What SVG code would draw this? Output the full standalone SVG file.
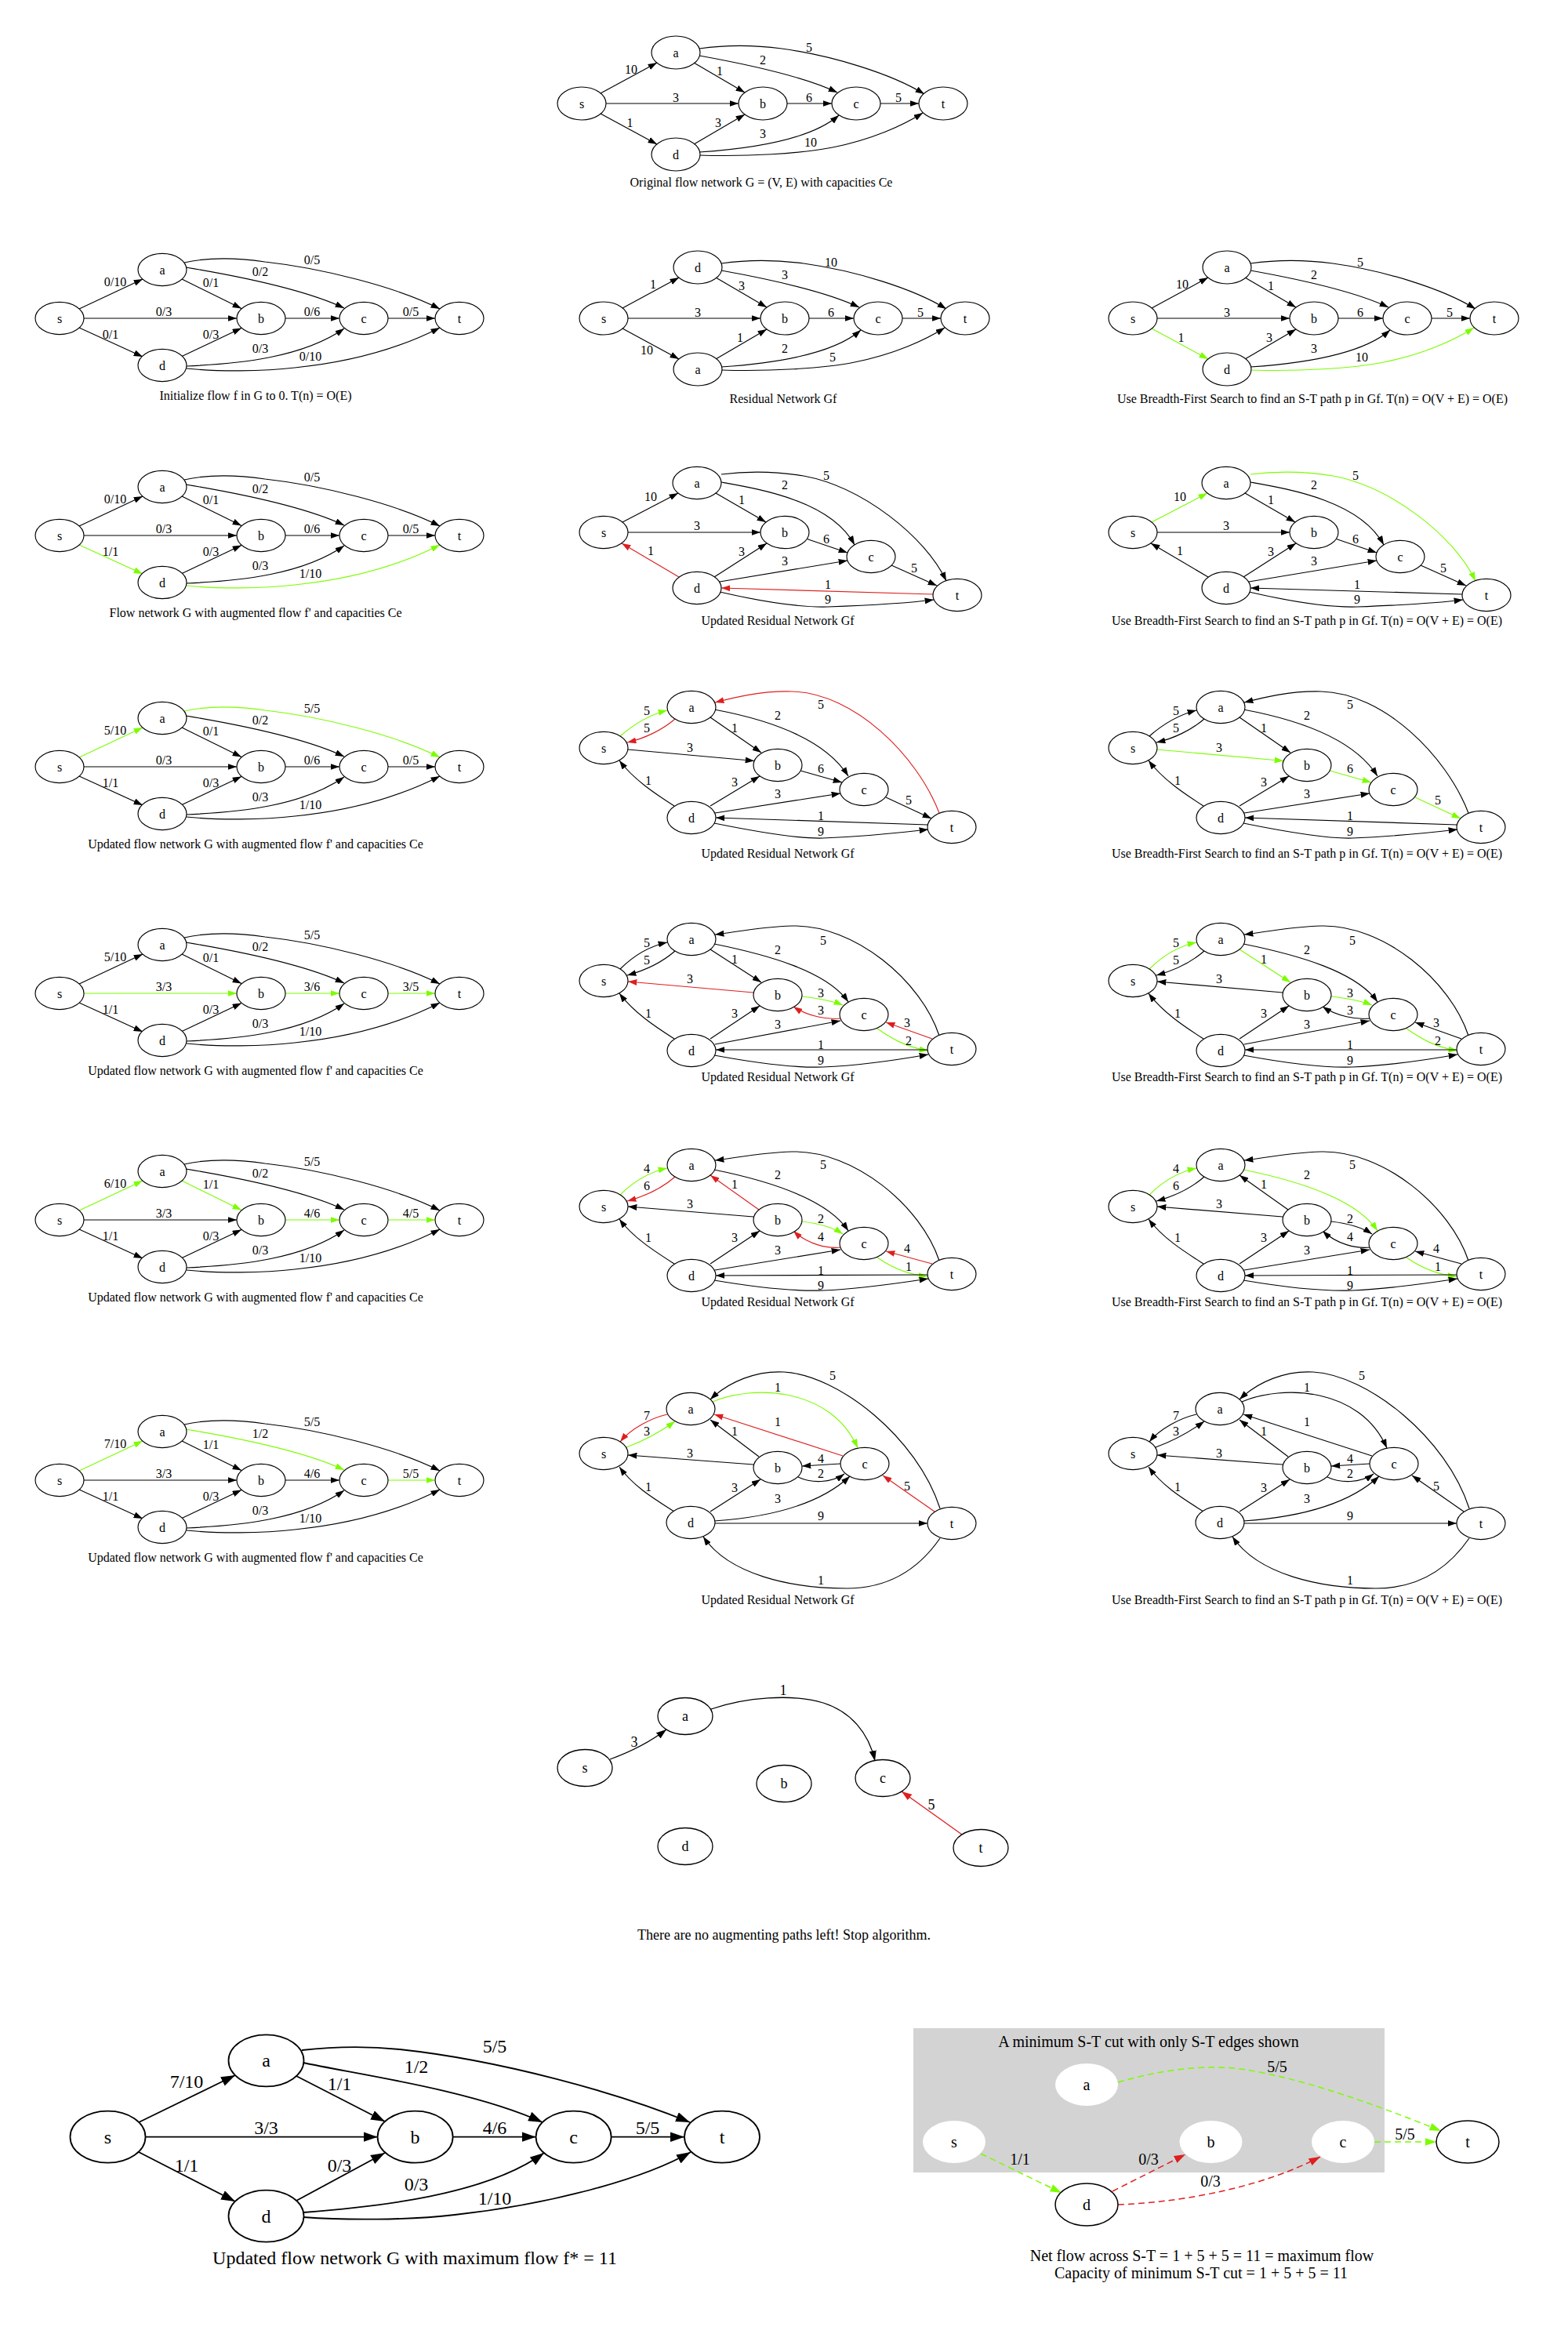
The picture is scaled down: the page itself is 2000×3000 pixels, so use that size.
<svg xmlns="http://www.w3.org/2000/svg" width="2000" height="3000" viewBox="0 0 2000 3000">
<defs>
<style>
text{font-family:"Liberation Serif","Times New Roman",serif;font-size:16px;text-anchor:middle;fill:#000}
.f18{font-size:18px}.f20{font-size:20px}.f24{font-size:24px}
.n ellipse{fill:#fff;stroke:#000;stroke-width:1.15}
.n8 ellipse{fill:#fff;stroke:#000;stroke-width:1.3}
.nL ellipse{fill:#fff;stroke:#000;stroke-width:1.8}
.nC ellipse{fill:#fff;stroke:#000;stroke-width:1.5}
.nW ellipse{fill:#fff;stroke:none}
.e{fill:none;stroke:#000;stroke-width:1.15;marker-end:url(#ak)}
.e.g{stroke:#7cfc00;marker-end:url(#ag)}
.e.r{stroke:#dd1f1f;marker-end:url(#ar)}
.e8{fill:none;stroke:#000;stroke-width:1.3;marker-end:url(#ak8)}
.e8.r{stroke:#dd1f1f;marker-end:url(#ar8)}
.eL{fill:none;stroke:#000;stroke-width:1.8;marker-end:url(#akL)}
.eC{fill:none;stroke-width:1.5;stroke-dasharray:8,5}
.eC.g{stroke:#7cfc00;marker-end:url(#agC)}
.eC.r{stroke:#dd1f1f;marker-end:url(#arC)}
</style>
<marker id="ak" viewBox="0 0 11.4 8" markerWidth="11.4" markerHeight="8" refX="11.4" refY="4" orient="auto" markerUnits="userSpaceOnUse"><path d="M0,0 L11.4,4 L0,8 z" fill="#000"/></marker>
<marker id="ag" viewBox="0 0 11.4 8" markerWidth="11.4" markerHeight="8" refX="11.4" refY="4" orient="auto" markerUnits="userSpaceOnUse"><path d="M0,0 L11.4,4 L0,8 z" fill="#7cfc00"/></marker>
<marker id="ar" viewBox="0 0 11.4 8" markerWidth="11.4" markerHeight="8" refX="11.4" refY="4" orient="auto" markerUnits="userSpaceOnUse"><path d="M0,0 L11.4,4 L0,8 z" fill="#dd1f1f"/></marker>
<marker id="ak8" viewBox="0 0 13 9.2" markerWidth="13" markerHeight="9.2" refX="13" refY="4.6" orient="auto" markerUnits="userSpaceOnUse"><path d="M0,0 L13,4.6 L0,9.2 z" fill="#000"/></marker>
<marker id="ar8" viewBox="0 0 13 9.2" markerWidth="13" markerHeight="9.2" refX="13" refY="4.6" orient="auto" markerUnits="userSpaceOnUse"><path d="M0,0 L13,4.6 L0,9.2 z" fill="#dd1f1f"/></marker>
<marker id="akL" viewBox="0 0 18 12.6" markerWidth="18" markerHeight="12.6" refX="18" refY="6.3" orient="auto" markerUnits="userSpaceOnUse"><path d="M0,0 L18,6.3 L0,12.6 z" fill="#000"/></marker>
<marker id="agC" viewBox="0 0 14.5 10" markerWidth="14.5" markerHeight="10" refX="14.5" refY="5" orient="auto" markerUnits="userSpaceOnUse"><path d="M0,0 L14.5,5 L0,10 z" fill="#7cfc00"/></marker>
<marker id="arC" viewBox="0 0 14.5 10" markerWidth="14.5" markerHeight="10" refX="14.5" refY="5" orient="auto" markerUnits="userSpaceOnUse"><path d="M0,0 L14.5,5 L0,10 z" fill="#dd1f1f"/></marker>
</defs>
<rect width="2000" height="3000" fill="#fff"/>

<!-- ===== Top: original network ===== -->
<g id="p0" transform="translate(742,132)">
<g id="p0-edges">
<path class="e" d="M24,-13 L96,-52"/>
<path class="e" d="M24,13 L96,52"/>
<path class="e" d="M31,0 L200,0"/>
<path class="e" d="M143,-52 L208,-14"/>
<path class="e" d="M150,-61 C200,-52 280,-36 326,-14"/>
<path class="e" d="M150,-70 C185,-75 225,-74 255,-70 C320,-61 395,-38 437,-12"/>
<path class="e" d="M143,52 L208,14"/>
<path class="e" d="M150,62 C210,58 290,48 328,15"/>
<path class="e" d="M150,66 C210,68 280,64 320,56 C370,46 410,28 435,12"/>
<path class="e" d="M262,0 L319,0"/>
<path class="e" d="M381,0 L430,0"/>
<text x="63" y="-38.5">10</text><text x="61.5" y="29.5">1</text><text x="120" y="-2.5">3</text>
<text x="176" y="-36.5">1</text><text x="231" y="-50.5">2</text><text x="290" y="-66.5">5</text>
<text x="290" y="-2.5">6</text><text x="404" y="-2.5">5</text><text x="174" y="29.5">3</text>
<text x="231" y="43.5">3</text><text x="292" y="54.5">10</text>
</g>
<g id="p0-s" class="n"><ellipse cx="0" cy="0" rx="31" ry="21"/><text x="0" y="5.5">s</text></g>
<g id="p0-a" class="n"><ellipse cx="120" cy="-65" rx="31" ry="21"/><text x="120" y="-59.5">a</text></g>
<g id="p0-b" class="n"><ellipse cx="231" cy="0" rx="31" ry="21"/><text x="231" y="5.5">b</text></g>
<g id="p0-c" class="n"><ellipse cx="350" cy="0" rx="31" ry="21"/><text x="350" y="5.5">c</text></g>
<g id="p0-t" class="n"><ellipse cx="461" cy="0" rx="31" ry="21"/><text x="461" y="5.5">t</text></g>
<g id="p0-d" class="n"><ellipse cx="120" cy="65" rx="31" ry="21"/><text x="120" y="70.5">d</text></g>
<text x="229" y="106">Original flow network G = (V, E) with capacities Ce</text>
</g>

<!-- ===== Row 2 ===== -->
<g id="p2L" transform="translate(76,406)">
<g id="p2L-edges">
<path class="e" d="M25,-12 L106,-50"/>
<path class="e" d="M156,-50 L232,-12.5"/>
<path class="e" d="M161,-65 C215,-56 310,-38 363,-13"/>
<path class="e" d="M159,-71 C190,-78 228,-77 262,-72 C335,-64 430,-40 485,-12"/>
<path class="e" d="M31,0 L226,0"/>
<path class="e" d="M288,0 L357,0"/>
<path class="e" d="M419,0 L479,0"/>
<path class="e" d="M25,12 L106,49"/>
<path class="e" d="M156,48.5 L232,12.5"/>
<path class="e" d="M162,61 C230,58 310,50 363,13"/>
<path class="e" d="M162,64 C200,68 260,68 300,63 C380,55 440,35 485,12"/>
<text x="71" y="-41.5">0/10</text><text x="193" y="-40.5">0/1</text><text x="256" y="-54.5">0/2</text>
<text x="322" y="-69.5">0/5</text><text x="133" y="-3.5">0/3</text><text x="322" y="-3.5">0/6</text>
<text x="448" y="-3.5">0/5</text><text x="65" y="25.5">0/1</text><text x="193" y="25.5">0/3</text>
<text x="256" y="43.5">0/3</text><text x="320" y="53.5">0/10</text>
</g>
<g id="p2L-s" class="n"><ellipse cx="0" cy="0" rx="31" ry="20.6"/><text x="0" y="5.5">s</text></g>
<g id="p2L-a" class="n"><ellipse cx="131" cy="-62" rx="31" ry="20.6"/><text x="131" y="-56.5">a</text></g>
<g id="p2L-b" class="n"><ellipse cx="257" cy="0" rx="31" ry="20.6"/><text x="257" y="5.5">b</text></g>
<g id="p2L-c" class="n"><ellipse cx="388" cy="0" rx="31" ry="20.6"/><text x="388" y="5.5">c</text></g>
<g id="p2L-t" class="n"><ellipse cx="510" cy="0" rx="31" ry="20.6"/><text x="510" y="5.5">t</text></g>
<g id="p2L-d" class="n"><ellipse cx="131" cy="60" rx="31" ry="20.6"/><text x="131" y="65.5">d</text></g>
<text x="250" y="104">Initialize flow f in G to 0. T(n) = O(E)</text>
</g>

<g id="p2M" transform="translate(770,406)">
<g id="p2M-edges">
<path class="e" d="M24,-13 L96,-52"/>
<path class="e" d="M24,13 L96,52"/>
<path class="e" d="M31,0 L200,0"/>
<path class="e" d="M143,-52 L208,-14"/>
<path class="e" d="M150,-61 C200,-52 280,-36 326,-14"/>
<path class="e" d="M150,-70 C185,-75 225,-74 255,-70 C320,-61 395,-38 437,-12"/>
<path class="e" d="M143,52 L208,14"/>
<path class="e" d="M150,62 C210,58 290,48 328,15"/>
<path class="e" d="M150,66 C210,68 280,64 320,56 C370,46 410,28 435,12"/>
<path class="e" d="M262,0 L319,0"/>
<path class="e" d="M381,0 L430,0"/>
<text x="63" y="-38.5">1</text><text x="55" y="46">10</text><text x="120" y="-2.5">3</text>
<text x="176" y="-36.5">3</text><text x="231" y="-50.5">3</text><text x="290" y="-66.5">10</text>
<text x="290" y="-2.5">6</text><text x="404" y="-2.5">5</text><text x="174" y="29.5">1</text>
<text x="231" y="43.5">2</text><text x="292" y="54.5">5</text>
</g>
<g id="p2M-s" class="n"><ellipse cx="0" cy="0" rx="31" ry="21"/><text x="0" y="5.5">s</text></g>
<g id="p2M-d" class="n"><ellipse cx="120" cy="-65" rx="31" ry="21"/><text x="120" y="-59.5">d</text></g>
<g id="p2M-b" class="n"><ellipse cx="231" cy="0" rx="31" ry="21"/><text x="231" y="5.5">b</text></g>
<g id="p2M-c" class="n"><ellipse cx="350" cy="0" rx="31" ry="21"/><text x="350" y="5.5">c</text></g>
<g id="p2M-t" class="n"><ellipse cx="461" cy="0" rx="31" ry="21"/><text x="461" y="5.5">t</text></g>
<g id="p2M-a" class="n"><ellipse cx="120" cy="65" rx="31" ry="21"/><text x="120" y="70.5">a</text></g>
<text x="229" y="108">Residual Network Gf</text>
</g>

<g id="p2R" transform="translate(1445,406)">
<g id="p2R-edges">
<path class="e" d="M24,-13 L96,-52"/>
<path class="e g" d="M24,13 L96,52"/>
<path class="e" d="M31,0 L200,0"/>
<path class="e" d="M143,-52 L208,-14"/>
<path class="e" d="M150,-61 C200,-52 280,-36 326,-14"/>
<path class="e" d="M150,-70 C185,-75 225,-74 255,-70 C320,-61 395,-38 437,-12"/>
<path class="e" d="M143,52 L208,14"/>
<path class="e" d="M150,62 C210,58 290,48 328,15"/>
<path class="e g" d="M150,66 C210,68 280,64 320,56 C370,46 410,28 435,12"/>
<path class="e" d="M262,0 L319,0"/>
<path class="e" d="M381,0 L430,0"/>
<text x="63" y="-38.5">10</text><text x="61.5" y="29.5">1</text><text x="120" y="-2.5">3</text>
<text x="176" y="-36.5">1</text><text x="231" y="-50.5">2</text><text x="290" y="-66.5">5</text>
<text x="290" y="-2.5">6</text><text x="404" y="-2.5">5</text><text x="174" y="29.5">3</text>
<text x="231" y="43.5">3</text><text x="292" y="54.5">10</text>
</g>
<g id="p2R-s" class="n"><ellipse cx="0" cy="0" rx="31" ry="21"/><text x="0" y="5.5">s</text></g>
<g id="p2R-a" class="n"><ellipse cx="120" cy="-65" rx="31" ry="21"/><text x="120" y="-59.5">a</text></g>
<g id="p2R-b" class="n"><ellipse cx="231" cy="0" rx="31" ry="21"/><text x="231" y="5.5">b</text></g>
<g id="p2R-c" class="n"><ellipse cx="350" cy="0" rx="31" ry="21"/><text x="350" y="5.5">c</text></g>
<g id="p2R-t" class="n"><ellipse cx="461" cy="0" rx="31" ry="21"/><text x="461" y="5.5">t</text></g>
<g id="p2R-d" class="n"><ellipse cx="120" cy="65" rx="31" ry="21"/><text x="120" y="70.5">d</text></g>
<text x="229" y="108">Use Breadth-First Search to find an S-T path p in Gf. T(n) = O(V + E) = O(E)</text>
</g>

<!-- ===== Row 3 ===== -->
<g id="p3L" transform="translate(76,683)">
<g id="p3L-edges">
<path class="e" d="M25,-12 L106,-50"/>
<path class="e" d="M156,-50 L232,-12.5"/>
<path class="e" d="M161,-65 C215,-56 310,-38 363,-13"/>
<path class="e" d="M159,-71 C190,-78 228,-77 262,-72 C335,-64 430,-40 485,-12"/>
<path class="e" d="M31,0 L226,0"/>
<path class="e" d="M288,0 L357,0"/>
<path class="e" d="M419,0 L479,0"/>
<path class="e g" d="M25,12 L106,49"/>
<path class="e" d="M156,48.5 L232,12.5"/>
<path class="e" d="M162,61 C230,58 310,50 363,13"/>
<path class="e g" d="M162,64 C200,68 260,68 300,63 C380,55 440,35 485,12"/>
<text x="71" y="-41.5">0/10</text><text x="193" y="-40.5">0/1</text><text x="256" y="-54.5">0/2</text>
<text x="322" y="-69.5">0/5</text><text x="133" y="-3.5">0/3</text><text x="322" y="-3.5">0/6</text>
<text x="448" y="-3.5">0/5</text><text x="65" y="25.5">1/1</text><text x="193" y="25.5">0/3</text>
<text x="256" y="43.5">0/3</text><text x="320" y="53.5">1/10</text>
</g>
<g id="p3L-s" class="n"><ellipse cx="0" cy="0" rx="31" ry="20.6"/><text x="0" y="5.5">s</text></g>
<g id="p3L-a" class="n"><ellipse cx="131" cy="-62" rx="31" ry="20.6"/><text x="131" y="-56.5">a</text></g>
<g id="p3L-b" class="n"><ellipse cx="257" cy="0" rx="31" ry="20.6"/><text x="257" y="5.5">b</text></g>
<g id="p3L-c" class="n"><ellipse cx="388" cy="0" rx="31" ry="20.6"/><text x="388" y="5.5">c</text></g>
<g id="p3L-t" class="n"><ellipse cx="510" cy="0" rx="31" ry="20.6"/><text x="510" y="5.5">t</text></g>
<g id="p3L-d" class="n"><ellipse cx="131" cy="60" rx="31" ry="20.6"/><text x="131" y="65.5">d</text></g>
<text x="250" y="104">Flow network G with augmented flow f' and capacities Ce</text>
</g>

<g id="p3M" transform="translate(770,679)">
<g id="p3M-edges">
<path class="e" d="M24,-13 L95,-50"/>
<path class="e" d="M31,0 L200,0"/>
<path class="e r" d="M96,57 L23,14"/>
<path class="e" d="M143,-50 L207,-13"/>
<path class="e" d="M150,-64 C200,-55 290,-40 320,16"/>
<path class="e" d="M150,-74 C190,-79 225,-77 255,-72 C330,-58 410,5 437,62"/>
<path class="e" d="M258,8 L311,26"/>
<path class="e" d="M141,57 L208,14"/>
<path class="e" d="M148,63 L311,36"/>
<path class="e" d="M367,42 L425,68"/>
<path class="e r" d="M420,79 L150,71"/>
<path class="e" d="M148,76 C200,88 250,96 286,95 C340,93 390,90 421,86"/>
<text x="60" y="-40.5">10</text><text x="119" y="-3.5">3</text><text x="60" y="28.5">1</text>
<text x="176" y="-36.5">1</text><text x="231" y="-55.5">2</text><text x="284" y="-67.5">5</text>
<text x="284" y="13.5">6</text><text x="176" y="29.5">3</text><text x="231" y="41.5">3</text>
<text x="396" y="50.5">5</text><text x="286" y="71.5">1</text><text x="286" y="90.5">9</text>
</g>
<g id="p3M-s" class="n"><ellipse cx="0" cy="0" rx="31" ry="20.6"/><text x="0" y="5.5">s</text></g>
<g id="p3M-a" class="n"><ellipse cx="119" cy="-63" rx="31" ry="20.6"/><text x="119" y="-57.5">a</text></g>
<g id="p3M-b" class="n"><ellipse cx="231" cy="0" rx="31" ry="20.6"/><text x="231" y="5.5">b</text></g>
<g id="p3M-c" class="n"><ellipse cx="341" cy="31" rx="31" ry="20.6"/><text x="341" y="36.5">c</text></g>
<g id="p3M-t" class="n"><ellipse cx="451" cy="80" rx="31" ry="20.6"/><text x="451" y="85.5">t</text></g>
<g id="p3M-d" class="n"><ellipse cx="119" cy="71" rx="31" ry="20.6"/><text x="119" y="76.5">d</text></g>
<text x="222" y="117.5">Updated Residual Network Gf</text>
</g>

<g id="p3R" transform="translate(1445,679)">
<g id="p3R-edges">
<path class="e g" d="M24,-13 L95,-50"/>
<path class="e" d="M31,0 L200,0"/>
<path class="e" d="M96,57 L23,14"/>
<path class="e" d="M143,-50 L207,-13"/>
<path class="e" d="M150,-64 C200,-55 290,-40 320,16"/>
<path class="e g" d="M150,-74 C190,-79 225,-77 255,-72 C330,-58 410,5 437,62"/>
<path class="e" d="M258,8 L311,26"/>
<path class="e" d="M141,57 L208,14"/>
<path class="e" d="M148,63 L311,36"/>
<path class="e" d="M367,42 L425,68"/>
<path class="e" d="M420,79 L150,71"/>
<path class="e" d="M148,76 C200,88 250,96 286,95 C340,93 390,90 421,86"/>
<text x="60" y="-40.5">10</text><text x="119" y="-3.5">3</text><text x="60" y="28.5">1</text>
<text x="176" y="-36.5">1</text><text x="231" y="-55.5">2</text><text x="284" y="-67.5">5</text>
<text x="284" y="13.5">6</text><text x="176" y="29.5">3</text><text x="231" y="41.5">3</text>
<text x="396" y="50.5">5</text><text x="286" y="71.5">1</text><text x="286" y="90.5">9</text>
</g>
<g id="p3R-s" class="n"><ellipse cx="0" cy="0" rx="31" ry="20.6"/><text x="0" y="5.5">s</text></g>
<g id="p3R-a" class="n"><ellipse cx="119" cy="-63" rx="31" ry="20.6"/><text x="119" y="-57.5">a</text></g>
<g id="p3R-b" class="n"><ellipse cx="231" cy="0" rx="31" ry="20.6"/><text x="231" y="5.5">b</text></g>
<g id="p3R-c" class="n"><ellipse cx="341" cy="31" rx="31" ry="20.6"/><text x="341" y="36.5">c</text></g>
<g id="p3R-t" class="n"><ellipse cx="451" cy="80" rx="31" ry="20.6"/><text x="451" y="85.5">t</text></g>
<g id="p3R-d" class="n"><ellipse cx="119" cy="71" rx="31" ry="20.6"/><text x="119" y="76.5">d</text></g>
<text x="222" y="117.5">Use Breadth-First Search to find an S-T path p in Gf. T(n) = O(V + E) = O(E)</text>
</g>

<!-- ===== Row 4 ===== -->
<g id="p4L" transform="translate(76,978)">
<g id="p4L-edges">
<path class="e g" d="M25,-12 L106,-50"/>
<path class="e" d="M156,-50 L232,-12.5"/>
<path class="e" d="M161,-65 C215,-56 310,-38 363,-13"/>
<path class="e g" d="M159,-71 C190,-78 228,-77 262,-72 C335,-64 430,-40 485,-12"/>
<path class="e" d="M31,0 L226,0"/>
<path class="e" d="M288,0 L357,0"/>
<path class="e" d="M419,0 L479,0"/>
<path class="e" d="M25,12 L106,49"/>
<path class="e" d="M156,48.5 L232,12.5"/>
<path class="e" d="M162,61 C230,58 310,50 363,13"/>
<path class="e" d="M162,64 C200,68 260,68 300,63 C380,55 440,35 485,12"/>
<text x="71" y="-41.5">5/10</text><text x="193" y="-40.5">0/1</text><text x="256" y="-54.5">0/2</text>
<text x="322" y="-69.5">5/5</text><text x="133" y="-3.5">0/3</text><text x="322" y="-3.5">0/6</text>
<text x="448" y="-3.5">0/5</text><text x="65" y="25.5">1/1</text><text x="193" y="25.5">0/3</text>
<text x="256" y="43.5">0/3</text><text x="320" y="53.5">1/10</text>
</g>
<g id="p4L-s" class="n"><ellipse cx="0" cy="0" rx="31" ry="20.6"/><text x="0" y="5.5">s</text></g>
<g id="p4L-a" class="n"><ellipse cx="131" cy="-62" rx="31" ry="20.6"/><text x="131" y="-56.5">a</text></g>
<g id="p4L-b" class="n"><ellipse cx="257" cy="0" rx="31" ry="20.6"/><text x="257" y="5.5">b</text></g>
<g id="p4L-c" class="n"><ellipse cx="388" cy="0" rx="31" ry="20.6"/><text x="388" y="5.5">c</text></g>
<g id="p4L-t" class="n"><ellipse cx="510" cy="0" rx="31" ry="20.6"/><text x="510" y="5.5">t</text></g>
<g id="p4L-d" class="n"><ellipse cx="131" cy="60" rx="31" ry="20.6"/><text x="131" y="65.5">d</text></g>
<text x="250" y="104">Updated flow network G with augmented flow f' and capacities Ce</text>
</g>

<g id="p4M" transform="translate(770,954)">
<g id="p4M-edges">
<path class="e g" d="M21,-15 C38,-30 58,-42 81,-48"/>
<path class="e r" d="M91,-37 C75,-23 52,-12 30,-7"/>
<path class="e" d="M31,2 L192,16.5"/>
<path class="e" d="M90,74 C65,58 38,40 20,16"/>
<path class="e" d="M136,-39 L201,6"/>
<path class="e" d="M141,-49 C200,-38 280,-15 312,36"/>
<path class="e r" d="M428,83 C400,10 320,-70 240,-72 C200,-73 165,-64 142,-58"/>
<path class="e" d="M251,29 L304,44"/>
<path class="e" d="M136,74 L199,36"/>
<path class="e" d="M142,83 L302,58"/>
<path class="e" d="M360,63 L418,90"/>
<path class="e" d="M413,98 L143,89"/>
<path class="e" d="M141,96 C200,108 250,116 280,115 C330,113 380,108 414,104"/>
<text x="55" y="-42.5">5</text><text x="55" y="-20.5">5</text><text x="110" y="4.5">3</text>
<text x="57" y="46.5">1</text><text x="167" y="-20.5">1</text><text x="222" y="-36.5">2</text>
<text x="277" y="-50.5">5</text><text x="277" y="31.5">6</text><text x="167" y="48.5">3</text>
<text x="222" y="63.5">3</text><text x="389" y="71.5">5</text><text x="277" y="91.5">1</text>
<text x="277" y="111.5">9</text>
</g>
<g id="p4M-s" class="n"><ellipse cx="0" cy="0" rx="31" ry="20.6"/><text x="0" y="5.5">s</text></g>
<g id="p4M-a" class="n"><ellipse cx="112" cy="-52" rx="31" ry="20.6"/><text x="112" y="-46.5">a</text></g>
<g id="p4M-b" class="n"><ellipse cx="222" cy="22" rx="31" ry="20.6"/><text x="222" y="27.5">b</text></g>
<g id="p4M-c" class="n"><ellipse cx="332" cy="53" rx="31" ry="20.6"/><text x="332" y="58.5">c</text></g>
<g id="p4M-t" class="n"><ellipse cx="444" cy="101" rx="31" ry="20.6"/><text x="444" y="106.5">t</text></g>
<g id="p4M-d" class="n"><ellipse cx="112" cy="89" rx="31" ry="20.6"/><text x="112" y="94.5">d</text></g>
<text x="222" y="139.5">Updated Residual Network Gf</text>
</g>

<g id="p4R" transform="translate(1445,954)">
<g id="p4R-edges">
<path class="e" d="M21,-15 C38,-30 58,-42 81,-48"/>
<path class="e" d="M91,-37 C75,-23 52,-12 30,-7"/>
<path class="e g" d="M31,2 L192,16.5"/>
<path class="e" d="M90,74 C65,58 38,40 20,16"/>
<path class="e" d="M136,-39 L201,6"/>
<path class="e" d="M141,-49 C200,-38 280,-15 312,36"/>
<path class="e" d="M428,83 C400,10 320,-70 240,-72 C200,-73 165,-64 142,-58"/>
<path class="e g" d="M251,29 L304,44"/>
<path class="e" d="M136,74 L199,36"/>
<path class="e" d="M142,83 L302,58"/>
<path class="e g" d="M360,63 L418,90"/>
<path class="e" d="M413,98 L143,89"/>
<path class="e" d="M141,96 C200,108 250,116 280,115 C330,113 380,108 414,104"/>
<text x="55" y="-42.5">5</text><text x="55" y="-20.5">5</text><text x="110" y="4.5">3</text>
<text x="57" y="46.5">1</text><text x="167" y="-20.5">1</text><text x="222" y="-36.5">2</text>
<text x="277" y="-50.5">5</text><text x="277" y="31.5">6</text><text x="167" y="48.5">3</text>
<text x="222" y="63.5">3</text><text x="389" y="71.5">5</text><text x="277" y="91.5">1</text>
<text x="277" y="111.5">9</text>
</g>
<g id="p4R-s" class="n"><ellipse cx="0" cy="0" rx="31" ry="20.6"/><text x="0" y="5.5">s</text></g>
<g id="p4R-a" class="n"><ellipse cx="112" cy="-52" rx="31" ry="20.6"/><text x="112" y="-46.5">a</text></g>
<g id="p4R-b" class="n"><ellipse cx="222" cy="22" rx="31" ry="20.6"/><text x="222" y="27.5">b</text></g>
<g id="p4R-c" class="n"><ellipse cx="332" cy="53" rx="31" ry="20.6"/><text x="332" y="58.5">c</text></g>
<g id="p4R-t" class="n"><ellipse cx="444" cy="101" rx="31" ry="20.6"/><text x="444" y="106.5">t</text></g>
<g id="p4R-d" class="n"><ellipse cx="112" cy="89" rx="31" ry="20.6"/><text x="112" y="94.5">d</text></g>
<text x="222" y="139.5">Use Breadth-First Search to find an S-T path p in Gf. T(n) = O(V + E) = O(E)</text>
</g>

<!-- ===== Row 5 ===== -->
<g id="p5L" transform="translate(76,1267)">
<g id="p5L-edges">
<path class="e" d="M25,-12 L106,-50"/>
<path class="e" d="M156,-50 L232,-12.5"/>
<path class="e" d="M161,-65 C215,-56 310,-38 363,-13"/>
<path class="e" d="M159,-71 C190,-78 228,-77 262,-72 C335,-64 430,-40 485,-12"/>
<path class="e g" d="M31,0 L226,0"/>
<path class="e g" d="M288,0 L357,0"/>
<path class="e g" d="M419,0 L479,0"/>
<path class="e" d="M25,12 L106,49"/>
<path class="e" d="M156,48.5 L232,12.5"/>
<path class="e" d="M162,61 C230,58 310,50 363,13"/>
<path class="e" d="M162,64 C200,68 260,68 300,63 C380,55 440,35 485,12"/>
<text x="71" y="-41.5">5/10</text><text x="193" y="-40.5">0/1</text><text x="256" y="-54.5">0/2</text>
<text x="322" y="-69.5">5/5</text><text x="133" y="-3.5">3/3</text><text x="322" y="-3.5">3/6</text>
<text x="448" y="-3.5">3/5</text><text x="65" y="25.5">1/1</text><text x="193" y="25.5">0/3</text>
<text x="256" y="43.5">0/3</text><text x="320" y="53.5">1/10</text>
</g>
<g id="p5L-s" class="n"><ellipse cx="0" cy="0" rx="31" ry="20.6"/><text x="0" y="5.5">s</text></g>
<g id="p5L-a" class="n"><ellipse cx="131" cy="-62" rx="31" ry="20.6"/><text x="131" y="-56.5">a</text></g>
<g id="p5L-b" class="n"><ellipse cx="257" cy="0" rx="31" ry="20.6"/><text x="257" y="5.5">b</text></g>
<g id="p5L-c" class="n"><ellipse cx="388" cy="0" rx="31" ry="20.6"/><text x="388" y="5.5">c</text></g>
<g id="p5L-t" class="n"><ellipse cx="510" cy="0" rx="31" ry="20.6"/><text x="510" y="5.5">t</text></g>
<g id="p5L-d" class="n"><ellipse cx="131" cy="60" rx="31" ry="20.6"/><text x="131" y="65.5">d</text></g>
<text x="250" y="104">Updated flow network G with augmented flow f' and capacities Ce</text>
</g>

<g id="p5M" transform="translate(770,1251)">
<g id="p5M-edges">
<path class="e" d="M21,-15 C38,-32 58,-44 81,-49"/>
<path class="e" d="M91,-38 C75,-24 52,-13 30,-7"/>
<path class="e r" d="M191,15 L31,1"/>
<path class="e" d="M90,74 C65,58 38,40 20,16"/>
<path class="e" d="M136,-40 L201,2"/>
<path class="e" d="M141,-47 C210,-33 285,-12 312,27"/>
<path class="e" d="M428,70 C405,0 320,-72 240,-70 C200,-69 168,-62 142,-59"/>
<path class="e g" d="M253,20 C270,22 290,25 305,31"/>
<path class="e r" d="M303,48 C285,50 260,45 242,33"/>
<path class="e" d="M136,74 L199,32"/>
<path class="e" d="M142,81 L302,51"/>
<path class="e r" d="M419,74 L360,53"/>
<path class="e g" d="M349,61 C365,72 385,85 414,89"/>
<path class="e" d="M413,88 L143,88"/>
<path class="e" d="M141,95 C200,106 250,111 280,110 C330,108 380,100 414,94"/>
<text x="55" y="-43.5">5</text><text x="55" y="-21.5">5</text><text x="110" y="2.5">3</text>
<text x="57" y="46.5">1</text><text x="167" y="-22.5">1</text><text x="222" y="-34.5">2</text>
<text x="280" y="-46.5">5</text><text x="277" y="20.5">3</text><text x="277" y="42.5">3</text>
<text x="167" y="46.5">3</text><text x="222" y="60.5">3</text><text x="387" y="58.5">3</text>
<text x="389" y="81.5">2</text><text x="277" y="86.5">1</text><text x="277" y="106.5">9</text>
</g>
<g id="p5M-s" class="n"><ellipse cx="0" cy="0" rx="31" ry="20.6"/><text x="0" y="5.5">s</text></g>
<g id="p5M-a" class="n"><ellipse cx="112" cy="-53" rx="31" ry="20.6"/><text x="112" y="-47.5">a</text></g>
<g id="p5M-b" class="n"><ellipse cx="222" cy="18" rx="31" ry="20.6"/><text x="222" y="23.5">b</text></g>
<g id="p5M-c" class="n"><ellipse cx="332" cy="43" rx="31" ry="20.6"/><text x="332" y="48.5">c</text></g>
<g id="p5M-t" class="n"><ellipse cx="444" cy="87" rx="31" ry="20.6"/><text x="444" y="92.5">t</text></g>
<g id="p5M-d" class="n"><ellipse cx="112" cy="89" rx="31" ry="20.6"/><text x="112" y="94.5">d</text></g>
<text x="222" y="127.5">Updated Residual Network Gf</text>
</g>

<g id="p5R" transform="translate(1445,1251)">
<g id="p5R-edges">
<path class="e g" d="M21,-15 C38,-32 58,-44 81,-49"/>
<path class="e" d="M91,-38 C75,-24 52,-13 30,-7"/>
<path class="e" d="M191,15 L31,1"/>
<path class="e" d="M90,74 C65,58 38,40 20,16"/>
<path class="e g" d="M136,-40 L201,2"/>
<path class="e" d="M141,-47 C210,-33 285,-12 312,27"/>
<path class="e" d="M428,70 C405,0 320,-72 240,-70 C200,-69 168,-62 142,-59"/>
<path class="e g" d="M253,20 C270,22 290,25 305,31"/>
<path class="e" d="M303,48 C285,50 260,45 242,33"/>
<path class="e" d="M136,74 L199,32"/>
<path class="e" d="M142,81 L302,51"/>
<path class="e" d="M419,74 L360,53"/>
<path class="e g" d="M349,61 C365,72 385,85 414,89"/>
<path class="e" d="M413,88 L143,88"/>
<path class="e" d="M141,95 C200,106 250,111 280,110 C330,108 380,100 414,94"/>
<text x="55" y="-43.5">5</text><text x="55" y="-21.5">5</text><text x="110" y="2.5">3</text>
<text x="57" y="46.5">1</text><text x="167" y="-22.5">1</text><text x="222" y="-34.5">2</text>
<text x="280" y="-46.5">5</text><text x="277" y="20.5">3</text><text x="277" y="42.5">3</text>
<text x="167" y="46.5">3</text><text x="222" y="60.5">3</text><text x="387" y="58.5">3</text>
<text x="389" y="81.5">2</text><text x="277" y="86.5">1</text><text x="277" y="106.5">9</text>
</g>
<g id="p5R-s" class="n"><ellipse cx="0" cy="0" rx="31" ry="20.6"/><text x="0" y="5.5">s</text></g>
<g id="p5R-a" class="n"><ellipse cx="112" cy="-53" rx="31" ry="20.6"/><text x="112" y="-47.5">a</text></g>
<g id="p5R-b" class="n"><ellipse cx="222" cy="18" rx="31" ry="20.6"/><text x="222" y="23.5">b</text></g>
<g id="p5R-c" class="n"><ellipse cx="332" cy="43" rx="31" ry="20.6"/><text x="332" y="48.5">c</text></g>
<g id="p5R-t" class="n"><ellipse cx="444" cy="87" rx="31" ry="20.6"/><text x="444" y="92.5">t</text></g>
<g id="p5R-d" class="n"><ellipse cx="112" cy="89" rx="31" ry="20.6"/><text x="112" y="94.5">d</text></g>
<text x="222" y="127.5">Use Breadth-First Search to find an S-T path p in Gf. T(n) = O(V + E) = O(E)</text>
</g>

<!-- ===== Row 6 ===== -->
<g id="p6L" transform="translate(76,1556)">
<g id="p6L-edges">
<path class="e g" d="M25,-12 L106,-50"/>
<path class="e g" d="M156,-50 L232,-12.5"/>
<path class="e" d="M161,-65 C215,-56 310,-38 363,-13"/>
<path class="e" d="M159,-71 C190,-78 228,-77 262,-72 C335,-64 430,-40 485,-12"/>
<path class="e" d="M31,0 L226,0"/>
<path class="e g" d="M288,0 L357,0"/>
<path class="e g" d="M419,0 L479,0"/>
<path class="e" d="M25,12 L106,49"/>
<path class="e" d="M156,48.5 L232,12.5"/>
<path class="e" d="M162,61 C230,58 310,50 363,13"/>
<path class="e" d="M162,64 C200,68 260,68 300,63 C380,55 440,35 485,12"/>
<text x="71" y="-41.5">6/10</text><text x="193" y="-40.5">1/1</text><text x="256" y="-54.5">0/2</text>
<text x="322" y="-69.5">5/5</text><text x="133" y="-3.5">3/3</text><text x="322" y="-3.5">4/6</text>
<text x="448" y="-3.5">4/5</text><text x="65" y="25.5">1/1</text><text x="193" y="25.5">0/3</text>
<text x="256" y="43.5">0/3</text><text x="320" y="53.5">1/10</text>
</g>
<g id="p6L-s" class="n"><ellipse cx="0" cy="0" rx="31" ry="20.6"/><text x="0" y="5.5">s</text></g>
<g id="p6L-a" class="n"><ellipse cx="131" cy="-62" rx="31" ry="20.6"/><text x="131" y="-56.5">a</text></g>
<g id="p6L-b" class="n"><ellipse cx="257" cy="0" rx="31" ry="20.6"/><text x="257" y="5.5">b</text></g>
<g id="p6L-c" class="n"><ellipse cx="388" cy="0" rx="31" ry="20.6"/><text x="388" y="5.5">c</text></g>
<g id="p6L-t" class="n"><ellipse cx="510" cy="0" rx="31" ry="20.6"/><text x="510" y="5.5">t</text></g>
<g id="p6L-d" class="n"><ellipse cx="131" cy="60" rx="31" ry="20.6"/><text x="131" y="65.5">d</text></g>
<text x="250" y="104">Updated flow network G with augmented flow f' and capacities Ce</text>
</g>

<g id="p6M" transform="translate(770,1539)">
<g id="p6M-edges">
<path class="e g" d="M21,-15 C38,-32 58,-44 81,-49"/>
<path class="e r" d="M91,-38 C75,-24 52,-13 30,-7"/>
<path class="e" d="M191,13 L31,0"/>
<path class="e" d="M90,73 C65,57 38,40 20,16"/>
<path class="e r" d="M198,4 L136,-40"/>
<path class="e" d="M141,-47 C210,-33 285,-10 312,31"/>
<path class="e" d="M428,69 C405,0 320,-72 240,-70 C200,-69 168,-62 142,-59"/>
<path class="e g" d="M253,19 C270,21 290,25 305,35"/>
<path class="e r" d="M303,52 C285,54 260,48 242,31"/>
<path class="e" d="M136,73 L199,31"/>
<path class="e" d="M142,81 L302,55"/>
<path class="e r" d="M419,73 L360,57"/>
<path class="e g" d="M349,65 C365,76 385,87 413,89"/>
<path class="e" d="M413,87 L143,88"/>
<path class="e" d="M141,94 C200,104 250,108 280,107 C330,105 380,97 414,92"/>
<text x="55" y="-43.5">4</text><text x="55" y="-21.5">6</text><text x="110" y="1.5">3</text>
<text x="57" y="44.5">1</text><text x="167" y="-23.5">1</text><text x="222" y="-35.5">2</text>
<text x="280" y="-48.5">5</text><text x="277" y="20.5">2</text><text x="277" y="43.5">4</text>
<text x="167" y="44.5">3</text><text x="222" y="60.5">3</text><text x="387" y="58.5">4</text>
<text x="389" y="81.5">1</text><text x="277" y="86.5">1</text><text x="277" y="105.5">9</text>
</g>
<g id="p6M-s" class="n"><ellipse cx="0" cy="0" rx="31" ry="20.6"/><text x="0" y="5.5">s</text></g>
<g id="p6M-a" class="n"><ellipse cx="112" cy="-53" rx="31" ry="20.6"/><text x="112" y="-47.5">a</text></g>
<g id="p6M-b" class="n"><ellipse cx="222" cy="17" rx="31" ry="20.6"/><text x="222" y="22.5">b</text></g>
<g id="p6M-c" class="n"><ellipse cx="332" cy="47" rx="31" ry="20.6"/><text x="332" y="52.5">c</text></g>
<g id="p6M-t" class="n"><ellipse cx="444" cy="86" rx="31" ry="20.6"/><text x="444" y="91.5">t</text></g>
<g id="p6M-d" class="n"><ellipse cx="112" cy="88" rx="31" ry="20.6"/><text x="112" y="93.5">d</text></g>
<text x="222" y="126.5">Updated Residual Network Gf</text>
</g>

<g id="p6R" transform="translate(1445,1539)">
<g id="p6R-edges">
<path class="e g" d="M21,-15 C38,-32 58,-44 81,-49"/>
<path class="e" d="M91,-38 C75,-24 52,-13 30,-7"/>
<path class="e" d="M191,13 L31,0"/>
<path class="e" d="M90,73 C65,57 38,40 20,16"/>
<path class="e" d="M198,4 L136,-40"/>
<path class="e g" d="M141,-47 C210,-33 285,-10 312,31"/>
<path class="e" d="M428,69 C405,0 320,-72 240,-70 C200,-69 168,-62 142,-59"/>
<path class="e" d="M253,19 C270,21 290,25 305,35"/>
<path class="e" d="M303,52 C285,54 260,48 242,31"/>
<path class="e" d="M136,73 L199,31"/>
<path class="e" d="M142,81 L302,55"/>
<path class="e" d="M419,73 L360,57"/>
<path class="e g" d="M349,65 C365,76 385,87 413,89"/>
<path class="e" d="M413,87 L143,88"/>
<path class="e" d="M141,94 C200,104 250,108 280,107 C330,105 380,97 414,92"/>
<text x="55" y="-43.5">4</text><text x="55" y="-21.5">6</text><text x="110" y="1.5">3</text>
<text x="57" y="44.5">1</text><text x="167" y="-23.5">1</text><text x="222" y="-35.5">2</text>
<text x="280" y="-48.5">5</text><text x="277" y="20.5">2</text><text x="277" y="43.5">4</text>
<text x="167" y="44.5">3</text><text x="222" y="60.5">3</text><text x="387" y="58.5">4</text>
<text x="389" y="81.5">1</text><text x="277" y="86.5">1</text><text x="277" y="105.5">9</text>
</g>
<g id="p6R-s" class="n"><ellipse cx="0" cy="0" rx="31" ry="20.6"/><text x="0" y="5.5">s</text></g>
<g id="p6R-a" class="n"><ellipse cx="112" cy="-53" rx="31" ry="20.6"/><text x="112" y="-47.5">a</text></g>
<g id="p6R-b" class="n"><ellipse cx="222" cy="17" rx="31" ry="20.6"/><text x="222" y="22.5">b</text></g>
<g id="p6R-c" class="n"><ellipse cx="332" cy="47" rx="31" ry="20.6"/><text x="332" y="52.5">c</text></g>
<g id="p6R-t" class="n"><ellipse cx="444" cy="86" rx="31" ry="20.6"/><text x="444" y="91.5">t</text></g>
<g id="p6R-d" class="n"><ellipse cx="112" cy="88" rx="31" ry="20.6"/><text x="112" y="93.5">d</text></g>
<text x="222" y="126.5">Use Breadth-First Search to find an S-T path p in Gf. T(n) = O(V + E) = O(E)</text>
</g>

<!-- ===== Row 7 ===== -->
<g id="p7L" transform="translate(76,1888)">
<g id="p7L-edges">
<path class="e g" d="M25,-12 L106,-50"/>
<path class="e" d="M156,-50 L232,-12.5"/>
<path class="e g" d="M161,-65 C215,-56 310,-38 363,-13"/>
<path class="e" d="M159,-71 C190,-78 228,-77 262,-72 C335,-64 430,-40 485,-12"/>
<path class="e" d="M31,0 L226,0"/>
<path class="e" d="M288,0 L357,0"/>
<path class="e g" d="M419,0 L479,0"/>
<path class="e" d="M25,12 L106,49"/>
<path class="e" d="M156,48.5 L232,12.5"/>
<path class="e" d="M162,61 C230,58 310,50 363,13"/>
<path class="e" d="M162,64 C200,68 260,68 300,63 C380,55 440,35 485,12"/>
<text x="71" y="-41.5">7/10</text><text x="193" y="-40.5">1/1</text><text x="256" y="-54.5">1/2</text>
<text x="322" y="-69.5">5/5</text><text x="133" y="-3.5">3/3</text><text x="322" y="-3.5">4/6</text>
<text x="448" y="-3.5">5/5</text><text x="65" y="25.5">1/1</text><text x="193" y="25.5">0/3</text>
<text x="256" y="43.5">0/3</text><text x="320" y="53.5">1/10</text>
</g>
<g id="p7L-s" class="n"><ellipse cx="0" cy="0" rx="31" ry="20.6"/><text x="0" y="5.5">s</text></g>
<g id="p7L-a" class="n"><ellipse cx="131" cy="-62" rx="31" ry="20.6"/><text x="131" y="-56.5">a</text></g>
<g id="p7L-b" class="n"><ellipse cx="257" cy="0" rx="31" ry="20.6"/><text x="257" y="5.5">b</text></g>
<g id="p7L-c" class="n"><ellipse cx="388" cy="0" rx="31" ry="20.6"/><text x="388" y="5.5">c</text></g>
<g id="p7L-t" class="n"><ellipse cx="510" cy="0" rx="31" ry="20.6"/><text x="510" y="5.5">t</text></g>
<g id="p7L-d" class="n"><ellipse cx="131" cy="60" rx="31" ry="20.6"/><text x="131" y="65.5">d</text></g>
<text x="250" y="104">Updated flow network G with augmented flow f' and capacities Ce</text>
</g>

<g id="p7M" transform="translate(770,1854)">
<g id="p7M-edges">
<path class="e r" d="M81,-50 C60,-45 35,-32 21,-15"/>
<path class="e g" d="M29,-8 C48,-15 70,-26 91,-41"/>
<path class="e" d="M191,14 L31,2"/>
<path class="e" d="M90,74 C65,58 38,42 20,17"/>
<path class="e" d="M198,4 L136,-43"/>
<path class="e r" d="M305,3 L141,-50"/>
<path class="e g" d="M139,-66 C190,-88 290,-85 324,-7"/>
<path class="e" d="M429,70 C400,-20 300,-100 230,-104 C195,-106 160,-92 136,-69"/>
<path class="e" d="M302,13 L253,16"/>
<path class="e" d="M248,30 C265,38 290,38 307,26"/>
<path class="e" d="M136,74 L200,33"/>
<path class="e" d="M141,86 C200,82 270,70 314,29"/>
<path class="e" d="M142,89 L413,89"/>
<path class="e r" d="M422,74 L356,28"/>
<path class="e" d="M429,108 C400,150 360,172 310,172 C240,172 160,155 127,106"/>
<text x="55" y="-43.5">7</text><text x="55" y="-23.5">3</text><text x="110" y="4.5">3</text>
<text x="57" y="47.5">1</text><text x="167" y="-23.5">1</text><text x="222" y="-35.5">1</text>
<text x="222" y="-79.5">1</text><text x="292" y="-94.5">5</text><text x="277" y="11.5">4</text>
<text x="277" y="30.5">2</text><text x="167" y="48.5">3</text><text x="222" y="62.5">3</text>
<text x="277" y="84.5">9</text><text x="387" y="46.5">5</text><text x="277" y="166.5">1</text>
</g>
<g id="p7M-s" class="n"><ellipse cx="0" cy="0" rx="31" ry="20.6"/><text x="0" y="5.5">s</text></g>
<g id="p7M-a" class="n"><ellipse cx="111" cy="-57" rx="31" ry="20.6"/><text x="111" y="-51.5">a</text></g>
<g id="p7M-b" class="n"><ellipse cx="222" cy="18" rx="31" ry="20.6"/><text x="222" y="23.5">b</text></g>
<g id="p7M-c" class="n"><ellipse cx="333" cy="13" rx="31" ry="20.6"/><text x="333" y="18.5">c</text></g>
<g id="p7M-t" class="n"><ellipse cx="444" cy="89" rx="31" ry="20.6"/><text x="444" y="94.5">t</text></g>
<g id="p7M-d" class="n"><ellipse cx="111" cy="88" rx="31" ry="20.6"/><text x="111" y="93.5">d</text></g>
<text x="222" y="191.5">Updated Residual Network Gf</text>
</g>

<g id="p7R" transform="translate(1445,1854)">
<g id="p7R-edges">
<path class="e" d="M81,-50 C60,-45 35,-32 21,-15"/>
<path class="e" d="M29,-8 C48,-15 70,-26 91,-41"/>
<path class="e" d="M191,14 L31,2"/>
<path class="e" d="M90,74 C65,58 38,42 20,17"/>
<path class="e" d="M198,4 L136,-43"/>
<path class="e" d="M305,3 L141,-50"/>
<path class="e" d="M139,-66 C190,-88 290,-85 324,-7"/>
<path class="e" d="M429,70 C400,-20 300,-100 230,-104 C195,-106 160,-92 136,-69"/>
<path class="e" d="M302,13 L253,16"/>
<path class="e" d="M248,30 C265,38 290,38 307,26"/>
<path class="e" d="M136,74 L200,33"/>
<path class="e" d="M141,86 C200,82 270,70 314,29"/>
<path class="e" d="M142,89 L413,89"/>
<path class="e" d="M422,74 L356,28"/>
<path class="e" d="M429,108 C400,150 360,172 310,172 C240,172 160,155 127,106"/>
<text x="55" y="-43.5">7</text><text x="55" y="-23.5">3</text><text x="110" y="4.5">3</text>
<text x="57" y="47.5">1</text><text x="167" y="-23.5">1</text><text x="222" y="-35.5">1</text>
<text x="222" y="-79.5">1</text><text x="292" y="-94.5">5</text><text x="277" y="11.5">4</text>
<text x="277" y="30.5">2</text><text x="167" y="48.5">3</text><text x="222" y="62.5">3</text>
<text x="277" y="84.5">9</text><text x="387" y="46.5">5</text><text x="277" y="166.5">1</text>
</g>
<g id="p7R-s" class="n"><ellipse cx="0" cy="0" rx="31" ry="20.6"/><text x="0" y="5.5">s</text></g>
<g id="p7R-a" class="n"><ellipse cx="111" cy="-57" rx="31" ry="20.6"/><text x="111" y="-51.5">a</text></g>
<g id="p7R-b" class="n"><ellipse cx="222" cy="18" rx="31" ry="20.6"/><text x="222" y="23.5">b</text></g>
<g id="p7R-c" class="n"><ellipse cx="333" cy="13" rx="31" ry="20.6"/><text x="333" y="18.5">c</text></g>
<g id="p7R-t" class="n"><ellipse cx="444" cy="89" rx="31" ry="20.6"/><text x="444" y="94.5">t</text></g>
<g id="p7R-d" class="n"><ellipse cx="111" cy="88" rx="31" ry="20.6"/><text x="111" y="93.5">d</text></g>
<text x="222" y="191.5">Use Breadth-First Search to find an S-T path p in Gf. T(n) = O(V + E) = O(E)</text>
</g>

<!-- ===== Row 8: final residual ===== -->
<g id="p8">
<g id="p8-edges">
<path class="e8" d="M778,2244 C800,2236 825,2225 850,2206"/>
<path class="e8" d="M907,2180 C950,2165 1010,2160 1050,2172 C1085,2183 1108,2210 1116,2246"/>
<path class="e8 r" d="M1227,2340 L1150,2285"/>
<text class="f18" x="809" y="2228">3</text>
<text class="f18" x="999" y="2162">1</text>
<text class="f18" x="1188" y="2308">5</text>
</g>
<g id="p8-s" class="n8"><ellipse cx="746" cy="2255" rx="35" ry="23.5"/><text class="f18" x="746" y="2261">s</text></g>
<g id="p8-a" class="n8"><ellipse cx="874" cy="2189" rx="35" ry="23.5"/><text class="f18" x="874" y="2195">a</text></g>
<g id="p8-b" class="n8"><ellipse cx="1000" cy="2275" rx="35" ry="23.5"/><text class="f18" x="1000" y="2281">b</text></g>
<g id="p8-c" class="n8"><ellipse cx="1126" cy="2268" rx="35" ry="23.5"/><text class="f18" x="1126" y="2274">c</text></g>
<g id="p8-t" class="n8"><ellipse cx="1251" cy="2357" rx="35" ry="23.5"/><text class="f18" x="1251" y="2363">t</text></g>
<g id="p8-d" class="n8"><ellipse cx="874" cy="2355" rx="35" ry="23.5"/><text class="f18" x="874" y="2361">d</text></g>
<text class="f18" x="1000" y="2474">There are no augmenting paths left! Stop algorithm.</text>
</g>

<!-- ===== Row 9 left: max flow ===== -->
<g id="p9L">
<g id="p9L-edges">
<path class="eL" d="M177,2707 L300,2647"/>
<path class="eL" d="M177,2745 L300,2808"/>
<path class="eL" d="M185.5,2725.7 L481.6,2725.7"/>
<path class="eL" d="M378,2648 L491,2706"/>
<path class="eL" d="M387,2631 C450,2645 600,2665 692,2707"/>
<path class="eL" d="M385,2615 C430,2610 470,2610 510,2614 C640,2628 790,2670 880,2707"/>
<path class="eL" d="M378,2807 L491,2746"/>
<path class="eL" d="M387,2822 C480,2815 620,2800 694,2746"/>
<path class="eL" d="M387,2828 C440,2832 520,2832 580,2825 C700,2812 820,2780 881,2745"/>
<path class="eL" d="M577.6,2725.7 L683.6,2725.7"/>
<path class="eL" d="M779.6,2725.7 L873,2725.7"/>
<text class="f24" x="238" y="2663">7/10</text>
<text class="f24" x="238" y="2770">1/1</text>
<text class="f24" x="339.5" y="2722">3/3</text>
<text class="f24" x="433" y="2666">1/1</text>
<text class="f24" x="531" y="2644">1/2</text>
<text class="f24" x="631" y="2618">5/5</text>
<text class="f24" x="631" y="2722">4/6</text>
<text class="f24" x="826" y="2722">5/5</text>
<text class="f24" x="433" y="2770">0/3</text>
<text class="f24" x="531" y="2794">0/3</text>
<text class="f24" x="631" y="2812">1/10</text>
</g>
<g id="p9L-s" class="nL"><ellipse cx="137.5" cy="2725.7" rx="48" ry="33"/><text class="f24" x="137.5" y="2733.7">s</text></g>
<g id="p9L-a" class="nL"><ellipse cx="339.5" cy="2628.3" rx="48" ry="33"/><text class="f24" x="339.5" y="2636.3">a</text></g>
<g id="p9L-b" class="nL"><ellipse cx="529.6" cy="2725.7" rx="48" ry="33"/><text class="f24" x="529.6" y="2733.7">b</text></g>
<g id="p9L-c" class="nL"><ellipse cx="731.6" cy="2725.7" rx="48" ry="33"/><text class="f24" x="731.6" y="2733.7">c</text></g>
<g id="p9L-t" class="nL"><ellipse cx="921" cy="2725.7" rx="48" ry="33"/><text class="f24" x="921" y="2733.7">t</text></g>
<g id="p9L-d" class="nL"><ellipse cx="339.5" cy="2826.7" rx="48" ry="33"/><text class="f24" x="339.5" y="2834.7">d</text></g>
<text class="f24" x="529" y="2888">Updated flow network G with maximum flow f* = 11</text>
</g>

<!-- ===== Row 9 right: min cut ===== -->
<g id="p9R">
<rect id="p9R-cluster" x="1165" y="2587" width="601" height="184" fill="#d3d3d3"/>
<text class="f20" x="1465" y="2611">A minimum S-T cut with only S-T edges shown</text>
<g id="p9R-edges">
<path class="eC g" d="M1426,2656 C1480,2640 1540,2632 1590,2640 C1680,2655 1780,2695 1838,2718"/>
<path class="eC g" d="M1753,2732 L1832,2732"/>
<path class="eC g" d="M1251,2747 L1354,2797"/>
<path class="eC r" d="M1419,2795 L1512,2748"/>
<path class="eC r" d="M1426,2812 C1490,2810 1600,2795 1684,2751"/>
<text class="f20" x="1629" y="2643">5/5</text>
<text class="f20" x="1792" y="2729">5/5</text>
<text class="f20" x="1301" y="2761">1/1</text>
<text class="f20" x="1465" y="2761">0/3</text>
<text class="f20" x="1544" y="2789">0/3</text>
</g>
<g id="p9R-a" class="nW"><ellipse cx="1386" cy="2659" rx="40" ry="27"/><text class="f20" x="1386" y="2666">a</text></g>
<g id="p9R-s" class="nW"><ellipse cx="1217" cy="2732" rx="40" ry="27"/><text class="f20" x="1217" y="2739">s</text></g>
<g id="p9R-b" class="nW"><ellipse cx="1544.5" cy="2732" rx="40" ry="27"/><text class="f20" x="1544.5" y="2739">b</text></g>
<g id="p9R-c" class="nW"><ellipse cx="1713" cy="2732" rx="40" ry="27"/><text class="f20" x="1713" y="2739">c</text></g>
<g id="p9R-t" class="nC"><ellipse cx="1872" cy="2732" rx="40" ry="27"/><text class="f20" x="1872" y="2739">t</text></g>
<g id="p9R-d" class="nC"><ellipse cx="1386" cy="2812" rx="40" ry="27"/><text class="f20" x="1386" y="2819">d</text></g>
<text class="f20" x="1533" y="2884">Net flow across S-T = 1 + 5 + 5 = 11 = maximum flow</text>
<text class="f20" x="1532" y="2906">Capacity of minimum S-T cut = 1 + 5 + 5 = 11</text>
</g>
</svg>
